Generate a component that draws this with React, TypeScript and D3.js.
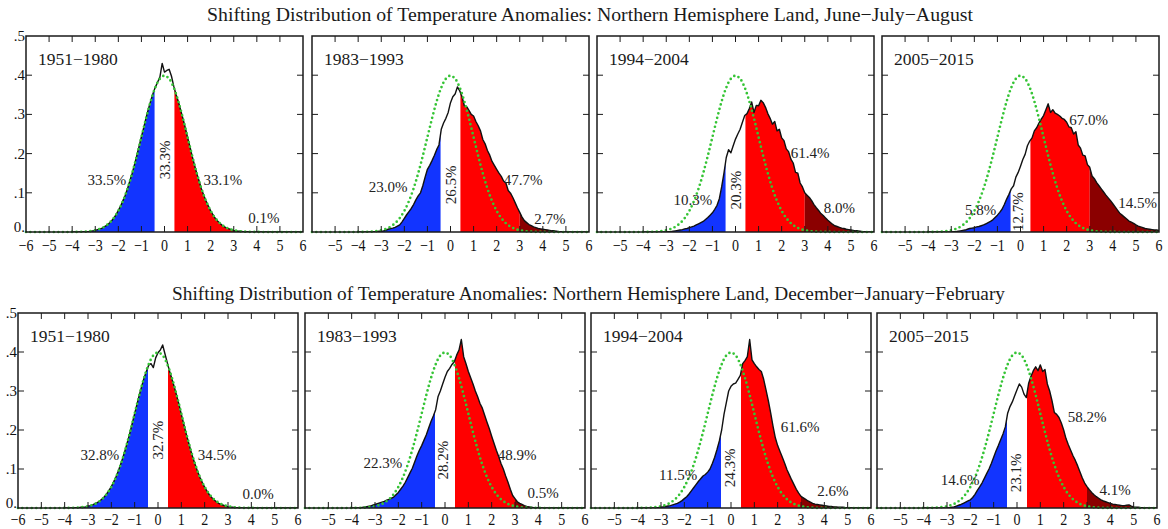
import { useRef, useEffect } from "react";
import * as d3 from "d3";

// histogram bins: -4.0 .. 6.0 every 0.1, densities x1000
const binStart = -4;
const binStep = 0.1;

const seasonTitles = [
  "Shifting Distribution of Temperature Anomalies: Northern Hemisphere Land, June−July−August",
  "Shifting Distribution of Temperature Anomalies: Northern Hemisphere Land, December−January−February",
];
const periods = ["1951−1980", "1983−1993", "1994−2004", "2005−2015"];

const jja1951 = [
  0, 0, 0, 0, 1, 1, 1, 1, 2, 3,
  4, 6, 8, 10, 14, 17, 22, 28, 35, 44,
  55, 66, 80, 94, 111, 131, 150, 172, 195, 219,
  243, 266, 291, 313, 334, 353, 369, 382, 395, 430,
  408, 412, 415, 398, 372, 351, 333, 311, 289, 266,
  241, 218, 193, 171, 149, 130, 110, 94, 79, 66,
  54, 44, 35, 28, 22, 17, 13, 10, 8, 6,
  4, 3, 2, 2, 1, 1, 1, 0, 0, 0,
  0, 0, 0, 0, 0, 0, 0, 0, 0, 0,
  0, 0, 0, 0, 0, 0, 0, 0, 0, 0, 0,
];
const jja1983 = [
  0, 0, 0, 0, 0, 0, 1, 1, 1, 2,
  2, 3, 5, 7, 9, 10, 12, 15, 18, 26,
  35, 44, 52, 60, 70, 82, 92, 100, 118, 140,
  160, 170, 182, 195, 210, 222, 262, 278, 290, 305,
  330, 345, 352, 370, 360, 345, 322, 320, 310, 300,
  296, 282, 271, 258, 236, 225, 208, 196, 180, 170,
  160, 150, 142, 130, 125, 106, 99, 88, 75, 62,
  50, 38, 29, 24, 19, 16, 13, 11, 9, 8,
  7, 6, 5, 4, 3, 3, 2, 1, 1, 0,
  0, 0, 0, 0, 0, 0, 0, 0, 0, 0, 0,
];
const jja1994 = [
  0, 0, 0, 0, 0, 0, 0, 0, 0, 0,
  0, 1, 1, 2, 3, 4, 5, 6, 8, 9,
  11, 13, 15, 18, 21, 24, 27, 32, 37, 43,
  49, 58, 68, 85, 115, 150, 190, 210, 202, 220,
  237, 250, 262, 280, 297, 302, 315, 332, 305, 323,
  322, 336, 330, 318, 302, 290, 275, 282, 258, 262,
  240, 233, 212, 205, 186, 176, 152, 150, 125, 115,
  100, 94, 88, 80, 70, 62, 55, 47, 42, 36,
  30, 25, 20, 16, 14, 12, 10, 9, 7, 6,
  5, 4, 3, 3, 2, 1, 1, 0, 0, 0, 0,
];
const jja2005 = [
  0, 0, 0, 0, 0, 0, 0, 0, 0, 0,
  0, 1, 1, 2, 3, 4, 5, 7, 9, 10,
  11, 13, 14, 16, 18, 21, 24, 27, 31, 37,
  43, 50, 58, 70, 84, 96, 110, 118, 140, 152,
  168, 185, 198, 220, 232, 240, 258, 266, 278, 288,
  297, 312, 327, 305, 312, 303, 300, 296, 290, 287,
  280, 268, 266, 250, 256, 222, 214, 196, 194, 172,
  165, 143, 136, 126, 118, 110, 102, 94, 87, 80,
  72, 64, 56, 48, 43, 38, 33, 28, 25, 22,
  18, 15, 13, 11, 9, 8, 7, 6, 5, 5, 4,
];
const djf1951 = [
  0, 0, 0, 0, 1, 1, 1, 2, 2, 3,
  5, 6, 8, 11, 14, 18, 23, 29, 36, 45,
  55, 67, 80, 95, 112, 130, 150, 171, 194, 218,
  242, 266, 290, 312, 333, 350, 366, 370, 360, 385,
  398, 405, 418, 395, 372, 350, 330, 310, 288, 265,
  240, 216, 192, 170, 148, 128, 110, 93, 78, 65,
  53, 43, 34, 27, 21, 16, 12, 9, 7, 5,
  3, 2, 2, 1, 1, 1, 0, 0, 0, 0,
  0, 0, 0, 0, 0, 0, 0, 0, 0, 0,
  0, 0, 0, 0, 0, 0, 0, 0, 0, 0, 0,
];
const djf1983 = [
  0, 0, 0, 0, 1, 2, 3, 4, 5, 7,
  9, 11, 13, 15, 17, 20, 22, 25, 28, 34,
  40, 48, 56, 66, 78, 90, 102, 118, 134, 148,
  160, 174, 188, 205, 222, 236, 252, 285, 300, 318,
  335, 350, 358, 368, 375, 392, 405, 432, 388, 370,
  350, 334, 318, 300, 285, 268, 256, 238, 220, 203,
  184, 166, 148, 132, 114, 100, 82, 66, 48, 32,
  24, 16, 12, 9, 6, 4, 3, 2, 1, 1,
  0, 0, 0, 0, 0, 0, 0, 0, 0, 0,
  0, 0, 0, 0, 0, 0, 0, 0, 0, 0, 0,
];
const djf1994 = [
  0, 0, 0, 0, 0, 0, 0, 0, 1, 1,
  2, 3, 4, 5, 6, 8, 10, 12, 15, 19,
  24, 29, 36, 44, 52, 60, 68, 75, 82, 86,
  92, 100, 114, 130, 150, 172, 200, 240, 270, 300,
  312, 318, 320, 330, 340, 370, 378, 388, 432, 380,
  370, 362, 355, 350, 330, 303, 275, 244, 210, 180,
  160, 145, 130, 115, 98, 85, 72, 60, 48, 38,
  30, 26, 22, 18, 15, 12, 10, 9, 8, 7,
  6, 5, 4, 4, 3, 3, 2, 2, 2, 1,
  1, 1, 0, 0, 0, 0, 0, 0, 0, 0, 0,
];
const djf2005 = [
  0, 0, 0, 0, 0, 0, 0, 0, 0, 0,
  0, 1, 2, 3, 5, 7, 9, 12, 15, 18,
  21, 27, 35, 45, 54, 64, 76, 88, 100, 114,
  130, 146, 160, 175, 190, 208, 243, 260, 272, 288,
  303, 318, 310, 292, 283, 320, 338, 352, 362, 352,
  367, 350, 355, 318, 300, 275, 245, 240, 232, 218,
  200, 178, 162, 148, 134, 122, 108, 92, 77, 64,
  55, 47, 40, 34, 29, 25, 21, 18, 16, 14,
  12, 10, 9, 8, 7, 6, 6, 7, 8, 5,
  3, 2, 2, 1, 1, 0, 0, 0, 0, 0, 0,
];

// 1951-1980 reference normal, -4..4 every 0.2, x1000
const normalRef = [
  0.1, 0.3, 0.6, 1.2, 2.4, 4.4, 7.9, 13.6, 22.4, 35.5, 54.0, 79.0, 110.9, 149.7,
  194.2, 242.0, 289.7, 333.2, 368.3, 391.0, 398.9, 391.0, 368.3, 333.2, 289.7,
  242.0, 194.2, 149.7, 110.9, 79.0, 54.0, 35.5, 22.4, 13.6, 7.9, 4.4, 2.4, 1.2,
  0.6, 0.3, 0.1,
];

const jjaPercents = [
  ["33.5%", "33.3%", "33.1%", "0.1%"],
  ["23.0%", "26.5%", "47.7%", "2.7%"],
  ["10.3%", "20.3%", "61.4%", "8.0%"],
  ["5.8%", "12.7%", "67.0%", "14.5%"],
];
const djfPercents = [
  ["32.8%", "32.7%", "34.5%", "0.0%"],
  ["22.3%", "28.2%", "48.9%", "0.5%"],
  ["11.5%", "24.3%", "61.6%", "2.6%"],
  ["14.6%", "23.1%", "58.2%", "4.1%"],
];

const xTicks = [-6, -5, -4, -3, -2, -1, 0, 1, 2, 3, 4, 5, 6];
const yTicks = [0, 0.1, 0.2, 0.3, 0.4, 0.5];
const yTickLabels = ["0.", ".1", ".2", ".3", ".4", ".5"];

// tercile cut-offs of the base period and the +3 sigma line
const cutLow = -0.43;
const cutHigh = 0.43;
const cutExtreme = 3;

// annotation anchors (data units) for the four percentages of each panel
const jjaSpots = [
  [[-2.5, 0.133], [0, 0.184], [2.53, 0.133], [4.3, 0.036]],
  [[-2.7, 0.115], [0, 0.12], [3.15, 0.133], [4.3, 0.033]],
  [[-1.85, 0.082], [0, 0.107], [3.23, 0.202], [4.5, 0.061]],
  [[-1.73, 0.056], [-0.1, 0.052], [2.95, 0.286], [5.07, 0.074]],
];
const djfSpots = [
  [[-2.49, 0.136], [0, 0.174], [2.53, 0.136], [4.29, 0.036]],
  [[-2.66, 0.115], [-0.1, 0.123], [3.09, 0.136], [4.2, 0.038]],
  [[-2.27, 0.085], [-0.04, 0.103], [2.96, 0.208], [4.37, 0.044]],
  [[-2.44, 0.072], [-0.04, 0.09], [3.0, 0.233], [4.2, 0.046]],
];

const rows = [
  { top: 36, bottom: 232, x0s: [26, 312, 597, 882], w: 277, titleX: 207, titleY: 21, titleW: 766, tickY: 251,
    data: [jja1951, jja1983, jja1994, jja2005], pct: jjaPercents, spots: jjaSpots },
  { top: 313, bottom: 508, x0s: [18, 305, 591, 877], w: 280, titleX: 172, titleY: 300, titleW: 833, tickY: 525,
    data: [djf1951, djf1983, djf1994, djf2005], pct: djfPercents, spots: djfSpots },
];

const serif = "'Liberation Serif', 'Times New Roman', serif";

export default function App() {
  const ref = useRef<SVGSVGElement>(null);
  useEffect(() => {
    if (!ref.current) return;
    const svg = d3.select(ref.current);
    svg.selectAll("*").remove();
    svg.append("rect").attr("width", 1168).attr("height", 529).attr("fill", "#fff");
    const defs = svg.append("defs");

    rows.forEach((row, r) => {
      svg.append("text")
        .attr("x", row.titleX)
        .attr("y", row.titleY)
        .attr("textLength", row.titleW)
        .attr("lengthAdjust", "spacingAndGlyphs")
        .style("font-family", serif)
        .style("font-size", "19px")
        .style("fill", "#1a1a1a")
        .text(seasonTitles[r]);

      row.x0s.forEach((x0, p) => {
        const x = d3.scaleLinear().domain([-6, 6]).range([x0, x0 + row.w]);
        const y = d3.scaleLinear().domain([0, 0.5]).range([row.bottom, row.top]);
        const pts: [number, number][] = row.data[p].map((v, i) => [binStart + i * binStep, v / 1000]);
        const g = svg.append("g");

        const area = d3.area<[number, number]>()
          .x((d) => x(d[0]))
          .y0(y(0))
          .y1((d) => y(d[1]));
        const line = d3.line<[number, number]>()
          .x((d) => x(d[0]))
          .y((d) => y(d[1]));

        const fills = [
          { from: -6, to: cutLow, color: "#1234ff" },
          { from: cutHigh, to: cutExtreme, color: "#ff0000" },
          { from: cutExtreme, to: 6, color: "#8b0000" },
        ];
        fills.forEach((f, k) => {
          const id = `clip-${r}-${p}-${k}`;
          defs.append("clipPath").attr("id", id)
            .append("rect")
            .attr("x", x(f.from))
            .attr("y", row.top)
            .attr("width", x(f.to) - x(f.from))
            .attr("height", row.bottom - row.top);
          g.append("path").datum(pts)
            .attr("d", area)
            .attr("fill", f.color)
            .attr("clip-path", `url(#${id})`);
        });

        const frameId = `frame-${r}-${p}`;
        defs.append("clipPath").attr("id", frameId)
          .append("rect")
          .attr("x", x0).attr("y", row.top)
          .attr("width", row.w).attr("height", row.bottom - row.top);

        g.append("path").datum(pts)
          .attr("d", line)
          .attr("fill", "none")
          .attr("stroke", "#111")
          .attr("stroke-width", 1.4)
          .attr("stroke-linejoin", "round")
          .attr("clip-path", `url(#${frameId})`);

        const ref0: [number, number][] = [[-6, 0]];
        const refPts: [number, number][] = ref0.concat(
          normalRef.map((v, i) => [-4 + i * 0.2, v / 1000] as [number, number]),
          [[6, 0]]
        );
        g.append("path").datum(refPts)
          .attr("d", line.curve(d3.curveCatmullRom))
          .attr("fill", "none")
          .attr("stroke", "#35c435")
          .attr("stroke-width", 2.7)
          .attr("stroke-linecap", "round")
          .attr("stroke-dasharray", "0 4.6");

        g.append("rect")
          .attr("x", x0).attr("y", row.top)
          .attr("width", row.w).attr("height", row.bottom - row.top)
          .attr("fill", "none")
          .attr("stroke", "#1a1a1a")
          .attr("stroke-width", 1.5);

        // inward ticks
        const inner = xTicks.slice(1, -1);
        inner.forEach((t) => {
          g.append("line")
            .attr("x1", x(t)).attr("x2", x(t))
            .attr("y1", row.top).attr("y2", row.top + 6)
            .attr("stroke", "#1a1a1a").attr("stroke-width", 1);
          g.append("line")
            .attr("x1", x(t)).attr("x2", x(t))
            .attr("y1", row.bottom).attr("y2", row.bottom - 6)
            .attr("stroke", "#1a1a1a").attr("stroke-width", 1);
        });
        yTicks.slice(1, -1).forEach((t) => {
          g.append("line")
            .attr("x1", x0).attr("x2", x0 + 6)
            .attr("y1", y(t)).attr("y2", y(t))
            .attr("stroke", "#1a1a1a").attr("stroke-width", 1);
          g.append("line")
            .attr("x1", x0 + row.w).attr("x2", x0 + row.w - 6)
            .attr("y1", y(t)).attr("y2", y(t))
            .attr("stroke", "#1a1a1a").attr("stroke-width", 1);
        });

        // the left-most -6 is only written on the first panel of a row
        const shown = p === 0 ? xTicks : xTicks.slice(1);
        shown.forEach((t) => {
          g.append("text")
            .attr("transform", `translate(${x(t)},${row.tickY}) scale(0.85,1)`)
            .attr("text-anchor", "middle")
            .style("font-family", serif)
            .style("font-size", "16.5px")
            .style("fill", "#111")
            .text(t < 0 ? `−${Math.abs(t)}` : `${t}`);
        });

        if (p === 0) {
          yTicks.forEach((t, i) => {
            g.append("text")
              .attr("x", x0 - 1)
              .attr("y", y(t) - (t === 0 ? 5 : 0))
              .attr("dy", "0.33em")
              .attr("text-anchor", "end")
              .style("font-family", serif)
              .style("font-size", "15px")
              .style("fill", "#111")
              .text(yTickLabels[i]);
          });
        }

        g.append("text")
          .attr("x", x0 + 12)
          .attr("y", row.top + 29)
          .style("font-family", serif)
          .style("font-size", "17.5px")
          .style("fill", "#1a1a1a")
          .text(periods[p]);

        row.pct[p].forEach((label, k) => {
          const [sx, sy] = row.spots[p][k];
          const rot = k === 1 ? " rotate(-90)" : "";
          g.append("text")
            .attr("transform", `translate(${x(sx)},${y(sy)})${rot}`)
            .attr("text-anchor", "middle")
            .attr("dy", "0.35em")
            .style("font-family", serif)
            .style("font-size", "15px")
            .style("fill", "#222")
            .text(label);
        });
      });
    });
  }, []);

  return (
    <svg
      ref={ref}
      width={1168}
      height={529}
      style={{ position: "absolute", left: 0, top: 0 }}
    />
  );
}
